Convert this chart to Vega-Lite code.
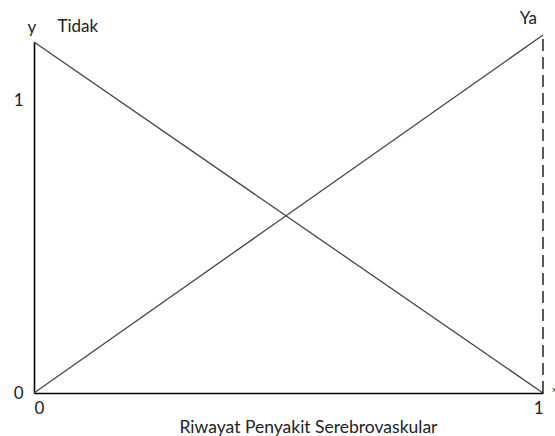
{
  "$schema": "https://vega.github.io/schema/vega-lite/v6.json",
  "width": 509,
  "height": 351,
  "autosize": "none",
  "padding": {"left": 34, "top": 42, "right": 12, "bottom": 43},
  "background": "white",
  "config": {"view": {"stroke": null}, "font": "Lato"},
  "datasets": {
    "lines": [
      {"series": "Tidak", "x": 0, "y": 1.202},
      {"series": "Tidak", "x": 1, "y": 0},
      {"series": "Ya", "x": 0, "y": 0},
      {"series": "Ya", "x": 1, "y": 1.226}
    ],
    "dash": [{"x": 1, "y": 0, "y2": 1.226}],
    "labels": [
      {"text": "y", "x": -0.004, "y": 1.25},
      {"text": "Tidak", "x": 0.086, "y": 1.255},
      {"text": "Ya", "x": 0.971, "y": 1.28},
      {"text": "x", "x": 1.022, "y": 0.01}
    ]
  },
  "layer": [
    {
      "data": {"name": "lines"},
      "mark": {"type": "line", "color": "#444444", "strokeWidth": 1.3},
      "encoding": {
        "x": {
          "field": "x", "type": "quantitative",
          "scale": {"domain": [0, 1], "nice": false},
          "axis": {
            "values": [0, 1], "grid": false, "ticks": false, "format": "d",
            "domainColor": "#000000", "domainWidth": 1.6,
            "labelFontSize": 17, "labelColor": "#222222", "labelPadding": 7,
            "labelAlign": {"condition": {"test": "datum.value == 0", "value": "left"}, "value": "right"},
            "labelFont": "Lato",
            "title": "Riwayat Penyakit Serebrovaskular",
            "titleFontWeight": "normal", "titleFontSize": 17.5, "titleColor": "#222222",
            "titleFont": "Lato",
            "titleX": 274, "titleY": 34, "titleBaseline": "middle"
          }
        },
        "y": {
          "field": "y", "type": "quantitative",
          "scale": {"domain": [0, 1.202], "nice": false, "zero": true},
          "axis": {
            "values": [0, 1], "grid": false, "ticks": false, "format": "d",
            "domainColor": "#000000", "domainWidth": 1.6,
            "labelFontSize": 17, "labelColor": "#222222", "labelPadding": 11,
            "labelFont": "Lato",
            "title": null
          }
        },
        "detail": {"field": "series"}
      }
    },
    {
      "data": {"name": "dash"},
      "mark": {"type": "rule", "color": "#000000", "strokeWidth": 1.3, "strokeDash": [12, 6]},
      "encoding": {
        "x": {"field": "x", "type": "quantitative"},
        "y": {"field": "y", "type": "quantitative"},
        "y2": {"field": "y2"}
      }
    },
    {
      "data": {"name": "labels"},
      "mark": {"type": "text", "color": "#222222", "font": "Lato"},
      "encoding": {
        "x": {"field": "x", "type": "quantitative"},
        "y": {"field": "y", "type": "quantitative"},
        "text": {"field": "text"},
        "size": {
          "condition": {"test": "datum.text == 'x'", "value": 8},
          "value": 17
        }
      }
    }
  ]
}
